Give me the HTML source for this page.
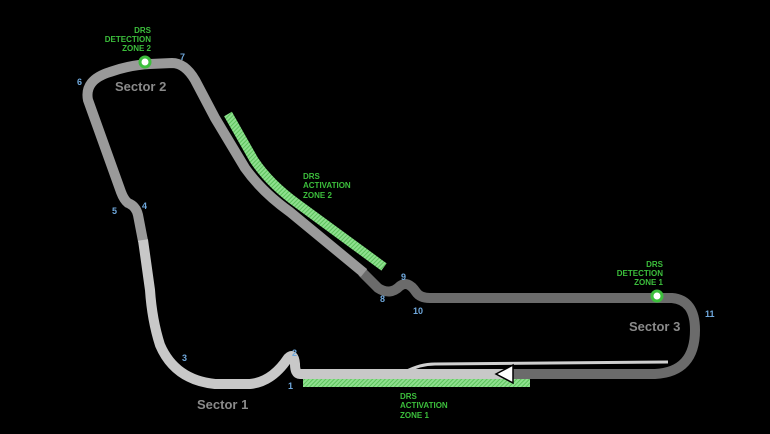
<!DOCTYPE html>
<html><head><style>
html,body{margin:0;padding:0;background:#000;width:770px;height:434px;overflow:hidden}
text{font-family:"Liberation Sans",sans-serif;font-weight:bold}
</style></head><body>
<svg width="770" height="434" viewBox="0 0 770 434" xmlns="http://www.w3.org/2000/svg">
<defs>
<pattern id="h" width="3" height="3" patternUnits="userSpaceOnUse" patternTransform="rotate(45)">
<rect width="3" height="3" fill="#8fe08f"/><rect width="1" height="3" fill="#5cc25c"/>
</pattern>
</defs>
<rect width="770" height="434" fill="#000"/>
<!-- DRS zones -->
<path d="M225,117 L251,163 Q267,187 295,207 L381,270" stroke="url(#h)" stroke-width="9" fill="none" transform="translate(3,-3)"/>
<rect x="303" y="378" width="227" height="9" fill="url(#h)"/>
<!-- pit lane -->
<path d="M405,372 Q420,364 435,364 L668,362" stroke="#d0d0d0" stroke-width="3" fill="none"/>
<!-- sector 3 -->
<path d="M362,272 L378,288 Q390,296 400,286 Q408,280 416,292 Q420,298 430,298 L672,298 Q695,300 695,330 Q695,372 655,374 L505,374" stroke="#6b6b6b" stroke-width="10" fill="none" stroke-linejoin="round"/>
<!-- sector 2 -->
<path d="M143,241 L138,215 Q136,206 128,203 Q124,200 121,192 L88,100 Q84,80 110,72 Q130,65 150,64 L172,63 Q185,63 195,80 L215,118 L245,168 Q262,192 290,212 L364,273" stroke="#9a9a9a" stroke-width="10" fill="none" stroke-linejoin="round"/>
<!-- sector 1 -->
<path d="M505,374 L300,374 Q295,374 295,364 Q294,352 288,358 Q272,382 250,384 L215,384 Q175,380 160,345 Q152,320 150,290 L143,240" stroke="#c8c8c8" stroke-width="10" fill="none" stroke-linejoin="round"/>
<!-- start arrow -->
<polygon points="496,374 513,365 513,383" fill="#fff" stroke="#000" stroke-width="1.5"/>
<!-- detection points -->
<circle cx="145" cy="62" r="5" fill="#fff" stroke="#3cbf3c" stroke-width="3"/>
<circle cx="657" cy="296" r="5" fill="#fff" stroke="#3cbf3c" stroke-width="3"/>
<!-- labels -->
<g fill="#3cbf3c" font-size="8" text-anchor="end">
<text x="151" y="33">DRS</text><text x="151" y="42">DETECTION</text><text x="151" y="51">ZONE 2</text>
<text x="663" y="267">DRS</text><text x="663" y="276">DETECTION</text><text x="663" y="285">ZONE 1</text>
</g>
<g fill="#3cbf3c" font-size="8">
<text x="303" y="179">DRS</text><text x="303" y="188">ACTIVATION</text><text x="303" y="198">ZONE 2</text>
<text x="400" y="399">DRS</text><text x="400" y="408">ACTIVATION</text><text x="400" y="418">ZONE 1</text>
</g>
<g fill="#8a8a8a" font-size="13">
<text x="115" y="91">Sector 2</text>
<text x="197" y="409">Sector 1</text>
<text x="629" y="331">Sector 3</text>
</g>
<g fill="#6fa8dc" font-size="9">
<text x="288" y="389">1</text><text x="292" y="356">2</text><text x="182" y="361">3</text>
<text x="142" y="209">4</text><text x="112" y="214">5</text><text x="77" y="85">6</text>
<text x="180" y="60">7</text><text x="380" y="302">8</text><text x="401" y="280">9</text>
<text x="413" y="314">10</text><text x="705" y="317">11</text>
</g>
</svg>
</body></html>
